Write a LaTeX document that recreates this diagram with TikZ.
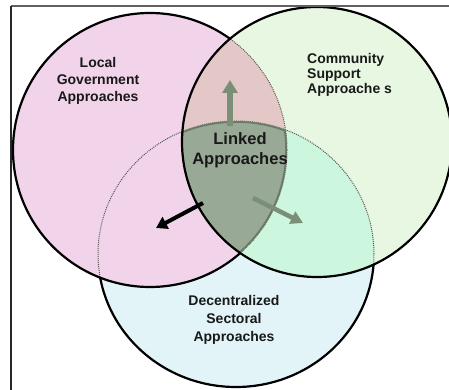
\documentclass[tikz,border=0pt]{standalone}
\usepackage{fontspec}
\usepackage{tikz}
\usetikzlibrary{arrows.meta}

\newfontfamily\labelfont{Liberation Sans}[BoldFont={* Bold}]

\definecolor{pinkfill}{RGB}{241,212,233}
\definecolor{greenfill}{RGB}{232,247,226}
\definecolor{bluefill}{RGB}{226,244,247}
\definecolor{mintfill}{RGB}{204,246,222}
\definecolor{rosyfill}{RGB}{227,200,199}
\definecolor{linkedfill}{RGB}{152,170,150}
\definecolor{linkededge}{RGB}{105,122,104}
\definecolor{arrowgrey}{RGB}{122,142,120}
\definecolor{textdark}{RGB}{25,25,25}

% i tre cerchi
\newcommand{\localring}{(150,150) circle (137pt)}
\newcommand{\supportring}{(317,142) circle (135pt)}
\newcommand{\sectorring}{(236,254) ellipse (138pt and 133pt)}
\newcommand{\allaround}{(-10,-10) -- (460,-10) -- (460,400) -- (-10,400) -- cycle}

\tikzset{
  ring/.style={draw=black, line width=2.2pt},
  seam/.style={draw=black!65, line width=1pt, densely dotted},
  ringtext/.style={text=textdark, inner sep=0pt},
  fatarrow/.style={line width=6pt, -{Triangle[width=15pt,length=13pt]}}
}

\begin{document}
\begin{tikzpicture}[x=1pt, y=-1pt]

\useasboundingbox (0,0) rectangle (449,390);

% riempimenti
\fill[bluefill] \sectorring;
\fill[greenfill] \supportring;
\begin{scope}
  \clip \supportring;
  \fill[mintfill] \sectorring;
\end{scope}
\fill[pinkfill] \localring;
\begin{scope}
  \clip \localring;
  \fill[rosyfill] \supportring;
\end{scope}

% bordi sottili
\draw[seam] \localring;
\draw[seam] \sectorring;

% zona comune
\begin{scope}
  \clip \localring;
  \clip \supportring;
  \clip \sectorring;
  \fill[linkedfill] \sectorring;
  \draw[linkededge, line width=3.5pt] \localring \sectorring;
\end{scope}

% bordi spessi
\begin{scope}[even odd rule]
  \clip \allaround \supportring;
  \draw[ring] \localring;
\end{scope}
\draw[ring] \supportring;
\begin{scope}[even odd rule]
  \clip \allaround \localring;
  \clip \allaround \supportring;
  \draw[ring] \sectorring;
\end{scope}

% cornice
\draw[line width=1.5pt, black!62] (11,6) -- (449,6);
\draw[line width=1.2pt, black!85] (11,6) -- (11,390);

% frecce
\coordinate (upfoot) at (230,126);
\coordinate (uptip) at (230,80);
\coordinate (leftfoot) at (203,203);
\coordinate (lefttip) at (156,228);
\coordinate (rightfoot) at (253,198);
\coordinate (righttip) at (303,223);

\draw[fatarrow, arrowgrey] (upfoot) -- (uptip);
\draw[line width=4pt, black, -{Triangle[width=13pt,length=11pt]}] (leftfoot) -- (lefttip);
\draw[line width=4.5pt, arrowgrey, -{Triangle[width=13pt,length=12pt]}] (rightfoot) -- (righttip);

% testi
\node[ringtext, align=center, font=\labelfont\bfseries\fontsize{14}{17}\selectfont] (local) at (98,81) {Local\\Government\\Approaches};
\node[ringtext, align=left, anchor=west, font=\labelfont\bfseries\fontsize{14}{15}\selectfont] (support) at (307,75) {Community\\Support\\Approache s};
\node[ringtext, align=center, font=\labelfont\bfseries\fontsize{14}{18}\selectfont] (sector) at (234,320) {Decentralized\\Sectoral\\Approaches};
\node[ringtext, align=center, font=\labelfont\bfseries\fontsize{16.5}{20}\selectfont] (linked) at (240,150) {Linked\\Approaches};

\end{tikzpicture}
\end{document}
